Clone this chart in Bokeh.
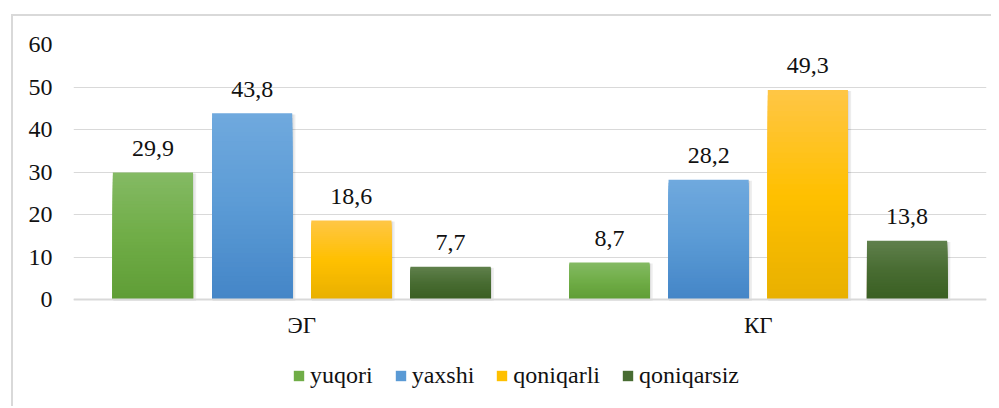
from bokeh.plotting import figure
from bokeh.models import (ColumnDataSource, FactorRange, Range1d, FixedTicker,
                          Legend, LegendItem, Span)
from bokeh.transform import dodge
from bokeh.core.properties import value
from bokeh.embed import file_html
from bokeh.resources import INLINE

# ---- data ----
groups = ["ЭГ", "КГ"]
series = ["yuqori", "yaxshi", "qoniqarli", "qoniqarsiz"]
yuqori = [29.9, 8.7]
yaxshi = [43.8, 28.2]
qoniqarli = [18.6, 49.3]
qoniqarsiz = [7.7, 13.8]
values = [yuqori, yaxshi, qoniqarli, qoniqarsiz]
y_ticks = [0, 10, 20, 30, 40, 50, 60]

# gradient colours (top, middle, bottom) per series
grad = [
    ("#84ba64", "#70ad47", "#5f9d36"),
    ("#70a9de", "#5b9bd5", "#4485c7"),
    ("#ffc646", "#ffc000", "#e8b000"),
    ("#60804c", "#486c32", "#3a5f22"),
]
offsets = [-0.326, -0.1087, 0.1087, 0.326]
bar_w = 0.1756
FONT = "Liberation Serif"
N = 40


def hx(c):
    c = c.lstrip("#")
    return [int(c[i:i + 2], 16) for i in (0, 2, 4)]


def mix(a, b, t):
    a, b = hx(a), hx(b)
    return "#%02x%02x%02x" % tuple(round(a[i] + (b[i] - a[i]) * t) for i in range(3))


def grad_color(g, f):  # f: 0 at top, 1 at bottom
    if f < 0.5:
        return mix(g[0], g[1], f / 0.5)
    return mix(g[1], g[2], (f - 0.5) / 0.5)


# frame extends below zero to leave room for category labels and legend
p = figure(x_range=FactorRange(*groups), y_range=Range1d(-24.7, 60),
           width=980, height=392, output_backend="svg", toolbar_location=None,
           min_border_left=60, min_border_right=7, min_border_top=28,
           min_border_bottom=4, margin=(14, 0, 0, 11),
           styles={"border-top": "2px solid #d9d9d9", "border-left": "2px solid #d9d9d9"})
p.outline_line_color = None
p.background_fill_color = "white"
p.border_fill_color = "white"

legend_items = []
for s, name in enumerate(series):
    # soft shadow
    sh = ColumnDataSource(dict(x=groups, top=[v - 0.25 for v in values[s]]))
    p.vbar(x=dodge("x", offsets[s] + 0.004, range=p.x_range), top="top", bottom=-0.35,
           width=bar_w + 0.006, source=sh, fill_color="#000000", fill_alpha=0.07,
           line_color=None)
    p.vbar(x=dodge("x", offsets[s] + 0.002, range=p.x_range), top="top", bottom=-0.2,
           width=bar_w + 0.002, source=sh, fill_color="#000000", fill_alpha=0.07,
           line_color=None)

    xs, tops, bottoms, cols = [], [], [], []
    for gi, g in enumerate(groups):
        v = values[s][gi]
        for i in range(N - 1, -1, -1):
            xs.append(g)
            tops.append(v * (i + 1) / N)
            bottoms.append(0)
            f = 1 - (i + 0.5) / N
            cols.append(grad_color(grad[s], f))
    src = ColumnDataSource(dict(x=xs, top=tops, bottom=bottoms, color=cols))
    r = p.vbar(x=dodge("x", offsets[s], range=p.x_range), top="top", bottom="bottom",
               width=bar_w, source=src, fill_color="color", line_color=None)
    legend_items.append(LegendItem(label=name, renderers=[r], index=N // 2))

    lab = ColumnDataSource(dict(x=groups, y=values[s],
                                t=[("%.1f" % v).replace(".", ",") for v in values[s]]))
    p.text(x=dodge("x", offsets[s], range=p.x_range), y="y", text="t", source=lab,
           text_font=value(FONT), text_font_size="24px", text_color="#111111",
           text_align="center", text_baseline="alphabetic", y_offset=-24)

# category axis line and labels at y = 0
p.add_layout(Span(location=0, dimension="width", line_color="#d9d9d9", line_width=2))
cat_src = ColumnDataSource(dict(x=groups, y=[0] * len(groups), t=groups))
p.text(x="x", y="y", text="t", source=cat_src, text_font=value(FONT),
       text_font_size="23px", text_color="#111111", text_align="center",
       text_baseline="alphabetic", y_offset=25.5)

# axes
p.xaxis.visible = False
p.yaxis.ticker = FixedTicker(ticks=y_ticks)
p.yaxis.axis_line_color = None
p.yaxis.major_tick_line_color = None
p.yaxis.minor_tick_line_color = None
p.yaxis.major_tick_in = 0
p.yaxis.major_tick_out = 0
p.yaxis.minor_tick_in = 0
p.yaxis.minor_tick_out = 0
p.yaxis.major_label_standoff = 21
p.yaxis.major_label_text_font = FONT
p.yaxis.major_label_text_font_size = "24px"
p.yaxis.major_label_text_color = "#111111"

p.xgrid.grid_line_color = None
p.ygrid.grid_line_color = "#d9d9d9"
p.ygrid.grid_line_width = 1

legend = Legend(items=legend_items, orientation="horizontal", location=(219, 15),
                glyph_width=13, glyph_height=13, label_standoff=5, spacing=21,
                padding=0, margin=0, border_line_color=None,
                background_fill_alpha=0,
                label_text_font=FONT, label_text_font_size="24px",
                label_text_color="#111111")
p.add_layout(legend, "center")

open("out.html", "w").write(file_html(p, INLINE))
